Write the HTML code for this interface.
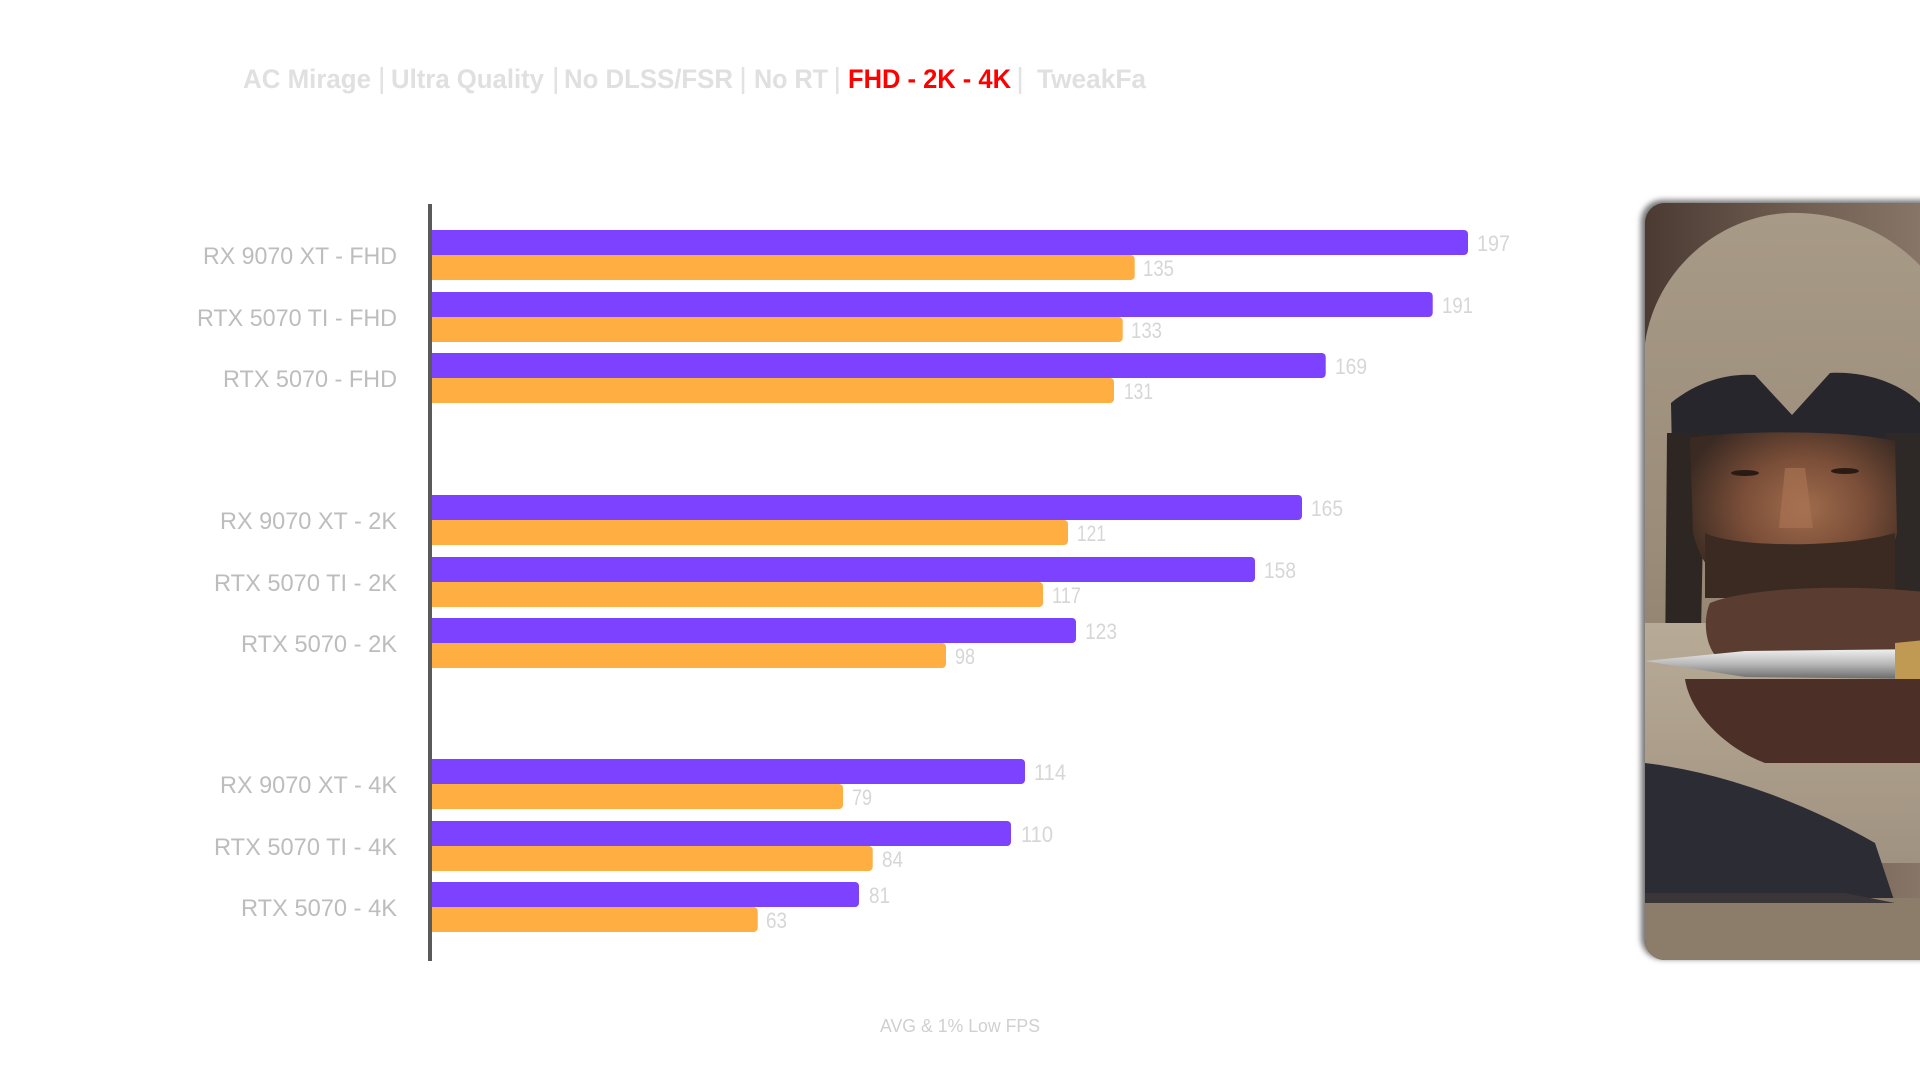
<!DOCTYPE html>
<html>
<head>
<meta charset="utf-8">
<style>
  html,body{margin:0;padding:0;background:#fff;}
  body{width:1920px;height:1080px;position:relative;overflow:hidden;font-family:"Liberation Sans",sans-serif;}
  #chart{position:absolute;left:0;top:0;}
  #portrait{position:absolute;left:1645px;top:203px;width:290px;height:757px;border-radius:20px 0 0 20px;overflow:hidden;box-shadow:-3px -2px 6px 1px rgba(0,0,0,0.55);background:#5a4a40;}
</style>
</head>
<body>
<svg id="chart" width="1920" height="1080" viewBox="0 0 1920 1080" xmlns="http://www.w3.org/2000/svg">
  <!-- Title -->
  <g font-family="Liberation Sans, sans-serif" font-size="27" font-weight="bold" fill="#e0e0e0">
    <text x="243" y="88" textLength="128" lengthAdjust="spacingAndGlyphs">AC Mirage</text>
    <text x="391" y="88" textLength="153" lengthAdjust="spacingAndGlyphs">Ultra Quality</text>
    <text x="564" y="88" textLength="169" lengthAdjust="spacingAndGlyphs">No DLSS/FSR</text>
    <text x="754" y="88" textLength="74" lengthAdjust="spacingAndGlyphs">No RT</text>
    <text x="848" y="88" textLength="163" lengthAdjust="spacingAndGlyphs" fill="#ff0000">FHD - 2K - 4K</text>
    <text x="1037" y="88" textLength="109" lengthAdjust="spacingAndGlyphs">TweakFa</text>
  </g>
  <g fill="#e2e2e2">
    <rect x="380.5" y="67" width="2.5" height="27"/>
    <rect x="554.5" y="67" width="2.5" height="27"/>
    <rect x="741.8" y="67" width="2.5" height="27"/>
    <rect x="836" y="67" width="2.5" height="27"/>
    <rect x="1018.8" y="67" width="2.5" height="27"/>
  </g>

  <!-- Bars -->
  <g>
    <!-- group 1 -->
    <rect x="428" y="230" width="1040" height="25" rx="4" fill="#7c42ff"/>
    <rect x="428" y="255" width="706.7" height="25" rx="4" fill="#ffae42"/>
    <rect x="428" y="292" width="1004.7" height="25" rx="4" fill="#7c42ff"/>
    <rect x="428" y="317" width="694.7" height="25" rx="4" fill="#ffae42"/>
    <rect x="428" y="353" width="897.7" height="25" rx="4" fill="#7c42ff"/>
    <rect x="428" y="378" width="686" height="25" rx="4" fill="#ffae42"/>
    <!-- group 2 -->
    <rect x="428" y="495" width="874" height="25" rx="4" fill="#7c42ff"/>
    <rect x="428" y="520" width="640" height="25" rx="4" fill="#ffae42"/>
    <rect x="428" y="557" width="827" height="25" rx="4" fill="#7c42ff"/>
    <rect x="428" y="582" width="615" height="25" rx="4" fill="#ffae42"/>
    <rect x="428" y="618" width="648" height="25" rx="4" fill="#7c42ff"/>
    <rect x="428" y="643" width="518" height="25" rx="4" fill="#ffae42"/>
    <!-- group 3 -->
    <rect x="428" y="759" width="597" height="25" rx="4" fill="#7c42ff"/>
    <rect x="428" y="784" width="415" height="25" rx="4" fill="#ffae42"/>
    <rect x="428" y="821" width="583" height="25" rx="4" fill="#7c42ff"/>
    <rect x="428" y="846" width="444.7" height="25" rx="4" fill="#ffae42"/>
    <rect x="428" y="882" width="431" height="25" rx="4" fill="#7c42ff"/>
    <rect x="428" y="907" width="329.7" height="25" rx="4" fill="#ffae42"/>
  </g>

  <!-- Axis -->
  <rect x="428" y="204" width="4" height="757" fill="#5a5a5a"/>

  <!-- Category labels -->
  <g font-family="Liberation Sans, sans-serif" font-size="24" fill="#bdbdbd" text-anchor="end">
    <text x="397" y="264" textLength="194" lengthAdjust="spacingAndGlyphs">RX 9070 XT - FHD</text>
    <text x="397" y="326" textLength="200" lengthAdjust="spacingAndGlyphs">RTX 5070 TI - FHD</text>
    <text x="397" y="387" textLength="174" lengthAdjust="spacingAndGlyphs">RTX 5070 - FHD</text>
    <text x="397" y="529" textLength="177" lengthAdjust="spacingAndGlyphs">RX 9070 XT - 2K</text>
    <text x="397" y="591" textLength="183" lengthAdjust="spacingAndGlyphs">RTX 5070 TI - 2K</text>
    <text x="397" y="652" textLength="156" lengthAdjust="spacingAndGlyphs">RTX 5070 - 2K</text>
    <text x="397" y="793" textLength="177" lengthAdjust="spacingAndGlyphs">RX 9070 XT - 4K</text>
    <text x="397" y="855" textLength="183" lengthAdjust="spacingAndGlyphs">RTX 5070 TI - 4K</text>
    <text x="397" y="916" textLength="156" lengthAdjust="spacingAndGlyphs">RTX 5070 - 4K</text>
  </g>

  <!-- Value labels -->
  <g font-family="Liberation Sans, sans-serif" font-size="22" fill="#d6d6d6">
    <text x="1477" y="251" textLength="33" lengthAdjust="spacingAndGlyphs">197</text>
    <text x="1143" y="276" textLength="31" lengthAdjust="spacingAndGlyphs">135</text>
    <text x="1442" y="313" textLength="31" lengthAdjust="spacingAndGlyphs">191</text>
    <text x="1131" y="338" textLength="31" lengthAdjust="spacingAndGlyphs">133</text>
    <text x="1335" y="374" textLength="32" lengthAdjust="spacingAndGlyphs">169</text>
    <text x="1124" y="399" textLength="29" lengthAdjust="spacingAndGlyphs">131</text>

    <text x="1311" y="516" textLength="32" lengthAdjust="spacingAndGlyphs">165</text>
    <text x="1077" y="541" textLength="29" lengthAdjust="spacingAndGlyphs">121</text>
    <text x="1264" y="578" textLength="32" lengthAdjust="spacingAndGlyphs">158</text>
    <text x="1052" y="603" textLength="29" lengthAdjust="spacingAndGlyphs">117</text>
    <text x="1085" y="639" textLength="32" lengthAdjust="spacingAndGlyphs">123</text>
    <text x="955" y="664" textLength="20" lengthAdjust="spacingAndGlyphs">98</text>

    <text x="1034" y="780" textLength="32" lengthAdjust="spacingAndGlyphs">114</text>
    <text x="852" y="805" textLength="20" lengthAdjust="spacingAndGlyphs">79</text>
    <text x="1021" y="842" textLength="32" lengthAdjust="spacingAndGlyphs">110</text>
    <text x="882" y="867" textLength="21" lengthAdjust="spacingAndGlyphs">84</text>
    <text x="869" y="903" textLength="21" lengthAdjust="spacingAndGlyphs">81</text>
    <text x="766" y="928" textLength="21" lengthAdjust="spacingAndGlyphs">63</text>
  </g>

  <!-- Footer -->
  <text x="880" y="1032" font-family="Liberation Sans, sans-serif" font-size="18" fill="#d0d0d0" textLength="160" lengthAdjust="spacingAndGlyphs">AVG &amp; 1% Low FPS</text>
</svg>

<div id="portrait">
  <svg width="290" height="757" viewBox="0 0 290 757" xmlns="http://www.w3.org/2000/svg">
    <defs>
      <linearGradient id="bg" x1="0" y1="0" x2="1" y2="0">
        <stop offset="0" stop-color="#4a3a32"/>
        <stop offset="0.5" stop-color="#6e5c50"/>
        <stop offset="1" stop-color="#8a786a"/>
      </linearGradient>
      <linearGradient id="hood" x1="0" y1="0" x2="0" y2="1">
        <stop offset="0" stop-color="#a79a86"/>
        <stop offset="0.6" stop-color="#9a8c78"/>
        <stop offset="1" stop-color="#8a7c68"/>
      </linearGradient>
      <radialGradient id="face" cx="0.55" cy="0.45" r="0.6">
        <stop offset="0" stop-color="#a06c4c"/>
        <stop offset="0.5" stop-color="#7a4e38"/>
        <stop offset="1" stop-color="#3a2a22"/>
      </radialGradient>
      <linearGradient id="knife" x1="0" y1="0" x2="0" y2="1">
        <stop offset="0" stop-color="#f0f0f0"/>
        <stop offset="0.5" stop-color="#b8b8b8"/>
        <stop offset="1" stop-color="#6a6a6a"/>
      </linearGradient>
      <linearGradient id="cloth" x1="0" y1="0" x2="0" y2="1">
        <stop offset="0" stop-color="#b8ab96"/>
        <stop offset="1" stop-color="#a09280"/>
      </linearGradient>
    </defs>
    <rect x="0" y="0" width="290" height="757" fill="url(#bg)"/>
    <!-- hood -->
    <path d="M0 560 L0 140 C10 70 70 14 142 10 C210 8 260 40 290 80 L290 560 Z" fill="url(#hood)"/>
    <!-- dark band / inner hood -->
    <path d="M26 200 C50 180 80 170 110 172 L147 212 L185 170 C220 168 255 180 275 200 L280 300 L28 300 Z" fill="#26262c"/>
    <!-- inner hood shadow sides -->
    <path d="M22 230 L60 230 L55 480 L20 470 Z" fill="#2e2622"/>
    <path d="M240 230 L275 230 L275 460 L245 460 Z" fill="#2e2826"/>
    <!-- face -->
    <path d="M45 235 C80 228 200 226 250 238 L252 330 C240 380 210 395 150 398 C95 396 60 380 48 330 Z" fill="url(#face)"/>
    <!-- eyes -->
    <ellipse cx="100" cy="270" rx="14" ry="3" fill="#2a1a14"/>
    <ellipse cx="200" cy="268" rx="14" ry="3" fill="#2a1a14"/>
    <!-- nose highlight -->
    <path d="M140 265 L160 265 L168 325 L134 325 Z" fill="#a87252" opacity="0.7"/>
    <!-- beard -->
    <path d="M60 330 C90 345 200 345 250 330 L250 395 L60 395 Z" fill="#3a2a22"/>
    <!-- cloth behind hands -->
    <rect x="0" y="420" width="290" height="240" fill="url(#cloth)"/>
    <!-- upper fist -->
    <path d="M65 400 C100 385 200 380 290 390 L290 452 L70 452 C60 440 58 415 65 400 Z" fill="#5a3c30"/>
    <!-- knife -->
    <path d="M0 458 L100 448 L290 446 L290 476 L100 474 Z" fill="url(#knife)"/>
    <path d="M250 440 L290 436 L290 484 L250 480 Z" fill="#c09a52"/>
    <!-- lower hand -->
    <path d="M40 476 L290 476 L290 560 L120 560 C80 545 45 510 40 476 Z" fill="#4c3028"/>
    <!-- dark scarf -->
    <path d="M0 560 C80 570 160 600 230 640 L250 700 L0 700 Z" fill="#2c2c34"/>
    <!-- bottom -->
    <rect x="0" y="695" width="290" height="62" fill="#8c7c6a"/>
    <path d="M0 690 L200 690 L250 700 L0 700 Z" fill="#3a3538"/>
  </svg>
</div>
</body>
</html>
